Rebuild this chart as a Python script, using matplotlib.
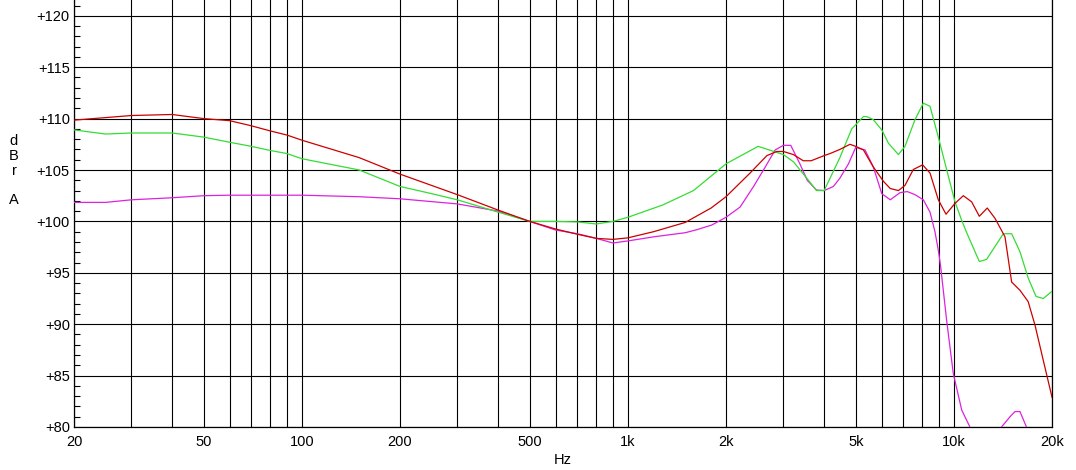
import matplotlib
matplotlib.use("Agg")
from matplotlib import pyplot as plt
from matplotlib.ticker import FixedLocator, NullFormatter, MultipleLocator

plt.rcParams["font.family"] = ["Liberation Sans", "DejaVu Sans"]

# frequency response, dBr A
red_f = [20, 30, 40, 50, 60, 70, 80, 90, 100, 150, 200, 300, 400, 500, 600, 700,
         800, 900, 1000, 1200, 1500, 1800, 2000, 2370, 2670, 2860, 3000, 3220,
         3450, 3650, 4000, 4170, 4470, 4800, 5000, 5280, 5660, 6080, 6380, 6760,
         7080, 7510, 8020, 8450, 8960, 9460, 10080, 10690, 11340, 11970, 12660,
         13370, 14350, 15040, 15950, 16900, 17740, 18800, 20000]
red_db = [109.85, 110.3, 110.4, 110.0, 109.8, 109.3, 108.8, 108.4, 107.9, 106.2,
          104.6, 102.6, 101.1, 100.0, 99.26, 98.75, 98.35, 98.25, 98.4, 99.0,
          99.9, 101.3, 102.4, 104.7, 106.4, 106.8, 106.8, 106.5, 105.9, 105.9,
          106.4, 106.6, 107.0, 107.5, 107.3, 106.95, 105.3, 103.9, 103.2, 103.0,
          103.5, 105.05, 105.5, 104.7, 102.1, 100.7, 101.75, 102.5, 101.9, 100.5,
          101.3, 100.3, 98.5, 94.1, 93.3, 92.2, 89.9, 86.5, 82.9]

green_f = [20, 25, 30, 40, 50, 60, 70, 80, 90, 100, 150, 200, 250, 300, 400, 500,
           600, 700, 800, 900, 1000, 1280, 1590, 2000, 2510, 3000, 3220, 3580,
           3790, 4000, 4170, 4470, 4860, 5280, 5400, 5660, 6010, 6300, 6760, 7080,
           7600, 8060, 8450, 8960, 9510, 10080, 10570, 10950, 11970, 12600, 14180,
           15040, 15950, 16900, 17870, 18800, 20000]
green_db = [108.9, 108.5, 108.6, 108.6, 108.2, 107.7, 107.3, 106.9, 106.6, 106.1,
            105.0, 103.4, 102.7, 102.1, 100.9, 100.0, 100.0, 99.95, 99.75, 100.0,
            100.4, 101.6, 103.0, 105.6, 107.3, 106.5, 105.8, 104.0, 103.0, 103.0,
            104.2, 106.2, 109.0, 110.2, 110.2, 109.9, 108.9, 107.6, 106.5, 107.3,
            109.9, 111.5, 111.2, 108.2, 105.0, 101.9, 100.1, 98.9, 96.1, 96.3,
            98.8, 98.8, 97.05, 94.5, 92.7, 92.5, 93.2]

magenta_f = [20, 25, 30, 40, 50, 60, 80, 100, 150, 200, 300, 400, 500, 600, 700,
             800, 900, 1000, 1200, 1500, 1630, 1810, 2000, 2210, 2430, 2640, 2830,
             3000, 3160, 3370, 3550, 3790, 4000, 4270, 4470, 4750, 5000, 5340,
             5660, 6010, 6380, 6840, 7200, 7600, 8060, 8450, 8750, 8960, 9110,
             9500, 9960, 10570, 11200, 12000, 13000, 14000, 14870, 15400, 15950,
             16700, 18000]
magenta_db = [101.85, 101.85, 102.1, 102.3, 102.5, 102.55, 102.55, 102.55, 102.4,
              102.2, 101.7, 101.0, 100.0, 99.16, 98.8, 98.35, 97.9, 98.1, 98.5,
              98.9, 99.2, 99.65, 100.4, 101.4, 103.4, 105.3, 106.95, 107.4, 107.4,
              105.6, 104.0, 103.05, 103.0, 103.4, 104.2, 105.6, 107.2, 106.95,
              105.3, 102.7, 102.1, 102.8, 102.9, 102.6, 102.1, 100.9, 99.0, 97.2,
              95.6, 90.4, 85.2, 81.65, 80.0, 77.0, 77.0, 80.0, 81.0, 81.5, 81.5,
              80.0, 77.0]

x_ticks = [20, 50, 100, 200, 500, 1000, 2000, 5000, 10000, 20000]
x_labels = ["20", "50", "100", "200", "500", "1k", "2k", "5k", "10k", "20k"]
y_ticks = [80, 85, 90, 95, 100, 105, 110, 115, 120]
y_labels = ["+%d" % v for v in y_ticks]

W, H = 1076, 470
fig = plt.figure(figsize=(W / 100, H / 100), dpi=100)
ax = fig.add_axes([74 / W, 1 - 427 / H, (1052 - 74) / W, 427 / H])

grid_x = [m * 10 ** e for e in range(1, 5) for m in range(1, 10)]
grid_x = [g for g in grid_x if 20 <= g <= 20000]
for g in grid_x:
    ax.axvline(g, color="black", lw=0.8, zorder=1)
for v in y_ticks:
    ax.axhline(v, color="black", lw=0.8, zorder=1)

ax.plot(magenta_f, magenta_db, color="#dd22dd", lw=0.9, zorder=3)
ax.plot(green_f, green_db, color="#33dd33", lw=0.9, zorder=3)
ax.plot(red_f, red_db, color="#cc0000", lw=0.9, zorder=4)

ax.set_xscale("log")
ax.set_xlim(20, 20000)
ax.set_ylim(80, 80 + 427 / 10.28)

ax.xaxis.set_major_locator(FixedLocator(x_ticks))
ax.set_xticklabels(x_labels)
ax.xaxis.set_minor_locator(FixedLocator([]))
ax.xaxis.set_minor_formatter(NullFormatter())
ax.tick_params(axis="x", which="both", length=0, pad=6, labelsize=10.5)

ax.yaxis.set_major_locator(FixedLocator(y_ticks))
ax.set_yticklabels(y_labels)
ax.yaxis.set_minor_locator(MultipleLocator(1))
ax.tick_params(axis="y", which="major", length=0, pad=3, labelsize=10.5)
ax.tick_params(axis="y", which="minor", direction="in", length=4, width=0.8)

ax.spines["top"].set_visible(False)
for s in ("left", "bottom", "right"):
    ax.spines[s].set_linewidth(0.9)

fig.text(563 / W, 1 - 460 / H, "Hz", ha="center", va="center", fontsize=10.5)
for ch, yy in zip(["d", "B", "r", "A"], [141, 156, 171, 200]):
    fig.text(14 / W, 1 - yy / H, ch, ha="center", va="center", fontsize=10.5)

fig.savefig("out.png", dpi=100)
